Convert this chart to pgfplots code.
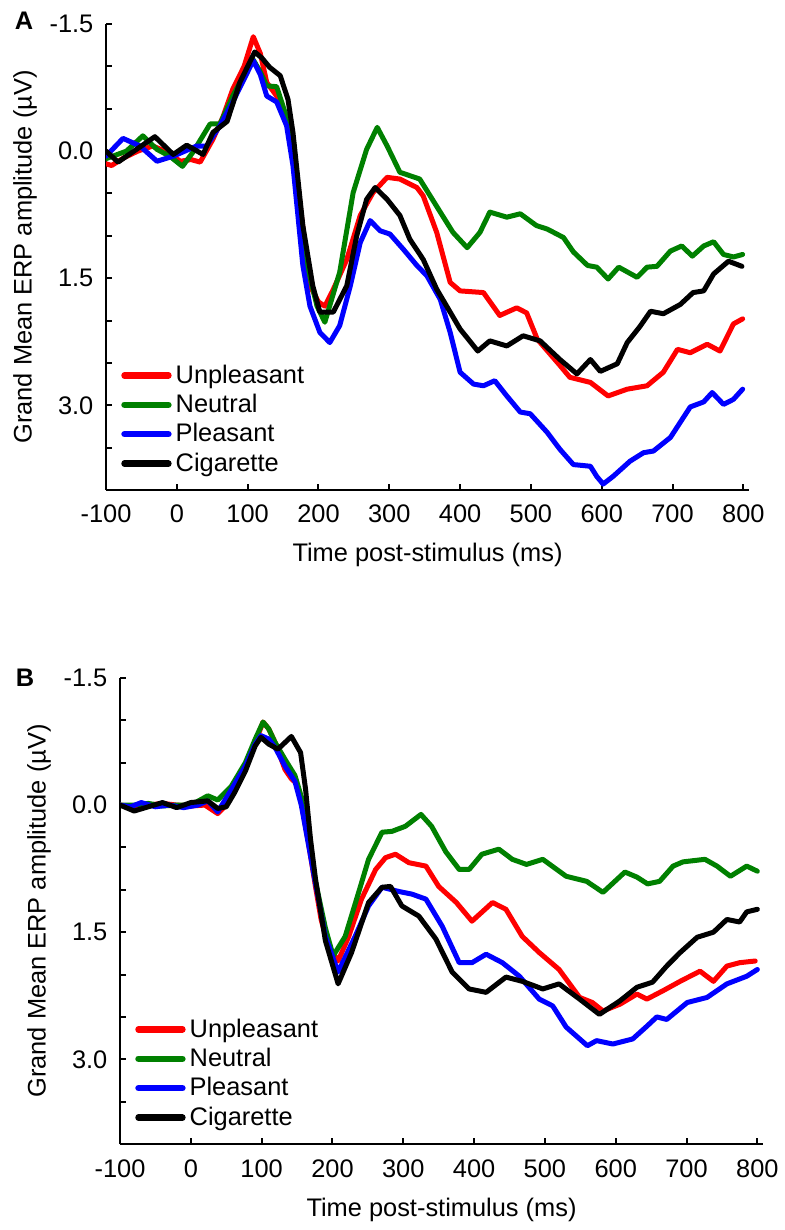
\documentclass[border=0pt]{standalone}
\usepackage{fontspec}
\setmainfont{Liberation Sans}
\usepackage{pgfplots}
\pgfplotsset{compat=1.18}
\definecolor{cred}{RGB}{255,0,0}
\definecolor{cgreen}{RGB}{0,128,0}
\definecolor{cblue}{RGB}{0,0,255}
\newcommand\f{\fontsize{12.7}{15}\selectfont}
\pgfplotsset{
  erp/.style={
    scale only axis, width=321.5pt, height=233pt,
    xmin=-100, xmax=808, ymin=-1.5, ymax=4.0, y dir=reverse,
    axis x line=bottom, axis y line=left,
    axis line style={-, line width=1pt},
    tick align=inside, major tick length=3pt, minor tick length=3pt,
    tick style={line width=1pt, black},
    xtick={-100,0,100,200,300,400,500,600,700,800},
    xticklabels={-100,0,100,200,300,400,500,600,700,800},
    ytick={-1.5,0,1.5,3},
    yticklabels={-1.5,0.0,1.5,3.0},
    minor ytick={-1,-0.5,0.5,1,2,2.5,3.5},
    tick label style={font=\f},
    xticklabel style={anchor=base, yshift=-16.5pt},
    yticklabel style={xshift=-2.8pt},
    label style={font=\f},
    xlabel={Time post-stimulus (ms)},
    ylabel={Grand Mean ERP amplitude (µV)},
    xlabel style={at={(axis description cs:0.5,-0.1545)}, anchor=base},
    ylabel style={at={(axis description cs:-0.126,0.5)}, anchor=center},
    legend style={font=\f, draw=none, fill=none, at={(axis description cs:0.02,0.02)}, anchor=south west, row sep=0pt, inner sep=1pt},
    legend cell align=left,
    legend image code/.code={\draw[#1, line width=3.2pt] (0pt,0pt) -- (22pt,0pt);},
    every axis plot/.append style={line width=2.5pt, line join=round, line cap=round},
  }
}
\begin{document}
\begin{tikzpicture}
\path[use as bounding box] (0,0) rectangle (392pt,615pt);
\node[font=\f\bfseries] at (12pt,604.5pt) {A};
\node[font=\f\bfseries] at (12.5pt,276pt) {B};
% ---------------- Panel A
\begin{axis}[erp, at={(53pt,370pt)}, anchor=south west]
\addplot[cred] coordinates {(-100,0.15)(-92,0.17)(-75,0.08)(-55,0.0)(-34,-0.06)(-14,0.01)(5,0.12)(20,0.10)(33,0.13)(51,-0.14)(65,-0.40)(79,-0.73)(95,-1.00)(108,-1.35)(118,-1.15)(127,-0.81)(141,-0.65)(155,-0.35)(164,-0.10)(175,0.70)(188,1.59)(200,1.78)(209,1.83)(220,1.65)(240,1.28)(259,0.76)(277,0.49)(297,0.31)(315,0.33)(339,0.43)(348,0.53)(367,0.96)(386,1.55)(400,1.65)(433,1.67)(456,1.94)(480,1.85)(494,1.91)(509,2.22)(541,2.53)(555,2.67)(584,2.73)(609,2.89)(636,2.81)(664,2.77)(687,2.61)(707,2.34)(725,2.38)(749,2.28)(767,2.36)(786,2.04)(799,1.98)};
\addplot[cgreen] coordinates {(-100,0.09)(-71,0.0)(-48,-0.18)(-28,-0.02)(-10,0.06)(8,0.18)(23,0.01)(47,-0.32)(61,-0.32)(79,-0.65)(95,-0.90)(107,-1.09)(117,-0.95)(127,-0.77)(141,-0.76)(155,-0.40)(162,-0.15)(170,0.57)(184,1.35)(198,1.83)(209,2.02)(230,1.43)(249,0.49)(268,-0.02)(283,-0.28)(297,-0.06)(315,0.25)(343,0.33)(372,0.72)(390,0.96)(410,1.14)(428,0.96)(442,0.72)(466,0.78)(485,0.74)(508,0.88)(523,0.92)(546,1.02)(560,1.19)(580,1.35)(593,1.37)(609,1.51)(624,1.37)(650,1.49)(664,1.37)(678,1.36)(697,1.18)(713,1.12)(728,1.24)(744,1.12)(758,1.07)(772,1.22)(786,1.25)(799,1.22)};
\addplot[cblue] coordinates {(-100,0.06)(-76,-0.15)(-52,-0.06)(-28,0.12)(-5,0.06)(28,-0.06)(42,-0.06)(61,-0.30)(79,-0.58)(95,-0.85)(108,-1.07)(118,-0.90)(127,-0.65)(141,-0.58)(155,-0.30)(164,0.17)(178,1.35)(188,1.83)(202,2.14)(216,2.26)(230,2.06)(245,1.59)(259,1.08)(273,0.82)(287,0.94)(301,0.98)(320,1.16)(339,1.35)(353,1.47)(372,1.75)(386,2.14)(400,2.61)(419,2.75)(433,2.77)(449,2.71)(466,2.89)(485,3.08)(499,3.10)(523,3.32)(541,3.52)(560,3.70)(584,3.72)(593,3.84)(602,3.93)(616,3.84)(640,3.66)(659,3.56)(673,3.54)(697,3.38)(711,3.20)(725,3.02)(744,2.96)(756,2.85)(772,2.99)(786,2.93)(799,2.81)};
\addplot[black] coordinates {(-100,0.0)(-83,0.13)(-57,-0.02)(-31,-0.17)(-5,0.04)(14,-0.07)(37,0.04)(51,-0.22)(71,-0.35)(89,-0.81)(110,-1.17)(120,-1.10)(131,-0.99)(146,-0.89)(157,-0.61)(164,-0.22)(178,0.88)(192,1.59)(202,1.90)(221,1.90)(240,1.59)(254,1.00)(268,0.57)(280,0.43)(297,0.57)(315,0.76)(329,1.04)(348,1.28)(367,1.63)(400,2.10)(425,2.36)(442,2.24)(466,2.30)(489,2.18)(513,2.24)(541,2.46)(565,2.63)(584,2.46)(598,2.60)(622,2.51)(636,2.26)(654,2.07)(669,1.89)(687,1.92)(711,1.81)(729,1.67)(744,1.65)(758,1.45)(779,1.30)(798,1.36)};
\legend{Unpleasant,Neutral,Pleasant,Cigarette}
\end{axis}
% ---------------- Panel B
\begin{axis}[erp, at={(60pt,43pt)}, anchor=south west]
\addplot[cred] coordinates {(-100,0.0)(-80,0.02)(-60,0.0)(-40,-0.02)(-20,0.0)(0,0.01)(20,0.0)(38,0.10)(50,0.0)(57,-0.18)(77,-0.46)(91,-0.74)(102,-0.98)(110,-0.90)(119,-0.74)(133,-0.42)(142,-0.31)(150,-0.25)(156,-0.03)(166,0.44)(176,0.96)(184,1.35)(194,1.66)(208,1.84)(223,1.55)(241,1.11)(261,0.76)(275,0.62)(289,0.58)(308,0.68)(332,0.72)(350,0.96)(375,1.15)(397,1.37)(426,1.15)(445,1.23)(468,1.55)(492,1.74)(520,1.94)(549,2.27)(567,2.33)(582,2.43)(606,2.35)(630,2.23)(644,2.29)(667,2.19)(691,2.08)(719,1.96)(738,2.08)(757,1.90)(775,1.86)(797,1.84)};
\addplot[cgreen] coordinates {(-100,0.0)(-80,0.0)(-60,-0.02)(-40,0.01)(-20,0.0)(0,0.0)(24,-0.11)(38,-0.06)(57,-0.22)(77,-0.50)(91,-0.78)(102,-0.98)(110,-0.90)(119,-0.74)(133,-0.54)(147,-0.35)(156,-0.10)(166,0.40)(176,0.90)(190,1.45)(201,1.78)(218,1.55)(237,1.03)(251,0.64)(270,0.32)(284,0.31)(303,0.25)(325,0.11)(340,0.25)(360,0.55)(379,0.76)(393,0.76)(411,0.58)(435,0.52)(454,0.64)(474,0.70)(497,0.64)(530,0.84)(559,0.90)(582,1.03)(613,0.79)(630,0.85)(645,0.93)(662,0.90)(681,0.72)(695,0.67)(726,0.64)(743,0.72)(762,0.84)(785,0.72)(800,0.78)};
\addplot[cblue] coordinates {(-100,0.0)(-85,0.02)(-70,-0.03)(-50,0.02)(-30,0.0)(-10,0.03)(10,0.0)(24,-0.05)(38,0.08)(57,-0.18)(77,-0.46)(91,-0.72)(99,-0.82)(110,-0.78)(119,-0.68)(133,-0.46)(147,-0.28)(156,0.0)(166,0.46)(176,0.92)(190,1.55)(208,1.97)(232,1.55)(251,1.19)(270,0.97)(294,1.02)(312,1.05)(332,1.11)(355,1.43)(379,1.86)(397,1.86)(417,1.76)(440,1.86)(464,2.02)(492,2.29)(511,2.37)(530,2.62)(560,2.84)(573,2.78)(596,2.82)(624,2.76)(644,2.61)(658,2.50)(672,2.53)(701,2.33)(729,2.27)(757,2.11)(785,2.02)(800,1.94)};
\addplot[black] coordinates {(-100,0.0)(-80,0.07)(-60,0.02)(-40,-0.03)(-20,0.03)(0,-0.03)(24,-0.05)(38,0.04)(50,0.02)(62,-0.15)(77,-0.40)(91,-0.70)(99,-0.80)(110,-0.72)(123,-0.66)(142,-0.81)(155,-0.62)(162,-0.19)(169,0.40)(176,0.87)(190,1.60)(208,2.11)(227,1.74)(251,1.15)(270,0.97)(282,0.96)(298,1.19)(322,1.31)(346,1.58)(369,1.97)(393,2.17)(417,2.21)(445,2.03)(468,2.08)(497,2.17)(520,2.11)(549,2.29)(577,2.47)(606,2.31)(630,2.15)(652,2.09)(672,1.90)(691,1.74)(715,1.56)(738,1.50)(757,1.35)(775,1.38)(785,1.26)(800,1.23)};
\legend{Unpleasant,Neutral,Pleasant,Cigarette}
\end{axis}
\end{tikzpicture}
\end{document}
